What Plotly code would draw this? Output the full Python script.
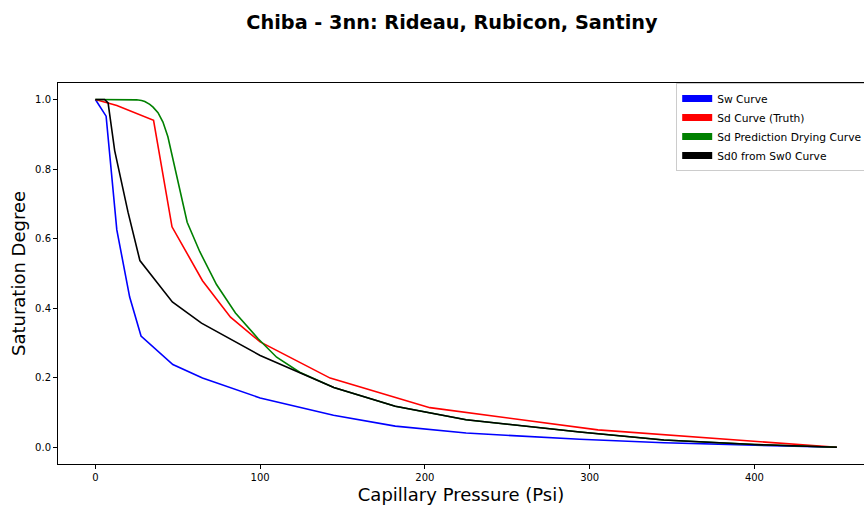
import plotly.graph_objects as go

# Sw curve
sw_x = [0, 6.5, 13, 20.8, 27.7, 47, 65, 100, 144.5, 182, 225, 294, 345, 400, 450]
sw_y = [1.0, 0.952, 0.625, 0.432, 0.32, 0.238, 0.199, 0.142, 0.092, 0.061, 0.041, 0.023, 0.013, 0.007, 0.0]

# Sd curve (truth)
sd_x = [0, 7, 13, 35.3, 46.5, 65, 82, 100, 142.5, 203, 305, 450]
sd_y = [1.0, 0.992, 0.983, 0.94, 0.634, 0.479, 0.374, 0.303, 0.199, 0.114, 0.05, 0.0]

# Sd prediction drying curve
pred_x = [0, 10, 15, 20, 25, 28, 30, 33, 35, 38, 41, 44, 47, 50, 53, 55.7,
          63.3, 73.5, 85, 98.8, 110, 124, 144.7, 182, 225, 294, 345, 400, 450]
pred_y = [1.0, 1.0, 1.0, 1.0, 0.999, 0.997, 0.994, 0.986, 0.978, 0.962, 0.935, 0.893, 0.83, 0.77, 0.71, 0.647,
          0.563, 0.468, 0.386, 0.312, 0.259, 0.216, 0.172, 0.118, 0.079, 0.044, 0.021, 0.008, 0.0]

# Sd0 from Sw0 curve
sd0_x = [0, 5.6, 7.7, 11.7, 19.8, 27, 46.7, 64.4, 100, 144.7, 182, 225, 294, 345, 400, 450]
sd0_y = [1.0, 1.0, 0.99, 0.853, 0.676, 0.537, 0.418, 0.357, 0.264, 0.172, 0.118, 0.079, 0.044, 0.021, 0.008, 0.0]

names = ["Sw Curve", "Sd Curve (Truth)", "Sd Prediction Drying Curve", "Sd0 from Sw0 Curve"]
colors = ["#0000ff", "#ff0000", "#008000", "#000000"]
series = [(sw_x, sw_y), (sd_x, sd_y), (pred_x, pred_y), (sd0_x, sd0_y)]

fig = go.Figure()
for (xs, ys), c in zip(series, colors):
    fig.add_trace(go.Scatter(x=xs, y=ys, mode="lines", line=dict(color=c, width=1.6),
                             showlegend=False, hoverinfo="skip"))
for n, c in zip(names, colors):
    fig.add_trace(go.Scatter(x=[None], y=[None], mode="lines", name=n,
                             line=dict(color=c, width=7)))

W, H = 864, 506
font = "DejaVu Sans"
fig.update_layout(
    width=W, height=H,
    paper_bgcolor="white", plot_bgcolor="white",
    margin=dict(l=58.3, r=0, t=82.5, b=42, autoexpand=False),
    font=dict(family=font, color="black"),
    title=dict(text="<b>Chiba - 3nn: Rideau, Rubicon, Santiny</b>",
               x=452/W, xref="container", xanchor="center",
               y=1-22/H, yref="container", yanchor="middle",
               font=dict(size=19.3, family=font, color="black")),
    legend=dict(x=0.767, y=1.0, xanchor="left", yanchor="top",
                bgcolor="white", bordercolor="#cccccc", borderwidth=1,
                font=dict(size=10.7, family=font), tracegroupgap=0),
    showlegend=True,
    hovermode=False,
)
fig.update_xaxes(range=[-22.7, 466.5], showgrid=False, zeroline=False, automargin=False,
                 showline=True, linecolor="black", linewidth=1, mirror=True,
                 ticks="outside", ticklen=4, tickcolor="black",
                 tickvals=[0, 100, 200, 300, 400], tickfont=dict(size=10),
                 title=dict(text="Capillary Pressure (Psi)", font=dict(size=18), standoff=6))
fig.update_yaxes(range=[-0.048, 1.0474], showgrid=False, zeroline=False, automargin=False,
                 showline=True, linecolor="black", linewidth=1, mirror=False,
                 ticks="outside", ticklen=4, tickcolor="black",
                 tickvals=[0, 0.2, 0.4, 0.6, 0.8, 1.0], tickformat=".1f",
                 tickfont=dict(size=10),
                 title=dict(text="Saturation Degree", font=dict(size=18), standoff=4))

fig.write_html(
    "out.html",
    config={"displayModeBar": False},
    post_script="document.body.style.margin='0';document.body.style.overflow='hidden';",
)
